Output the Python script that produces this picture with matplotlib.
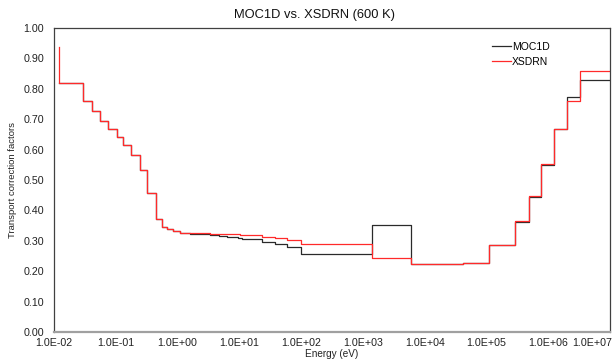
import matplotlib
matplotlib.use("Agg")
import matplotlib.pyplot as plt
from matplotlib.ticker import FixedLocator, FuncFormatter
from matplotlib.transforms import ScaledTranslation

plt.rcParams['font.family'] = ['Liberation Sans', 'DejaVu Sans']

# MOC1D: energy points (eV) and step values (steps-pre: value holds up to that energy)
moc_energy = [1.22e-2, 3.0e-2, 4.07e-2, 5.55e-2, 7.57e-2, 0.1035, 0.132, 0.174, 0.247,
              0.324, 0.447, 0.56, 0.68, 0.85, 1.09, 1.59, 3.34, 4.68, 6.2, 9.5, 10.9,
              23.0, 37.7, 59.6, 98.0, 1384.0, 5980.0, 4.2e4, 1.1e5, 2.9e5, 4.8e5,
              7.7e5, 1.23e6, 2.0e6, 3.25e6, 1.0e7]
moc_value = [0.818, 0.818, 0.760, 0.727, 0.695, 0.667, 0.640, 0.614, 0.582,
             0.534, 0.457, 0.371, 0.344, 0.338, 0.333, 0.327, 0.321, 0.319, 0.315, 0.314, 0.308,
             0.305, 0.297, 0.289, 0.281, 0.256, 0.352, 0.223, 0.227, 0.285, 0.363,
             0.443, 0.550, 0.667, 0.772, 0.829]

# XSDRN
xs_energy = [1.22e-2, 3.0e-2, 4.07e-2, 5.55e-2, 7.57e-2, 0.1035, 0.132, 0.174, 0.247,
             0.324, 0.447, 0.56, 0.68, 0.85, 1.09, 1.59, 3.34, 5.5, 10.2,
             23.0, 37.7, 59.6, 98.0, 1384.0, 5980.0, 4.2e4, 1.1e5, 2.9e5, 4.8e5,
             7.7e5, 1.23e6, 2.0e6, 3.25e6, 1.0e7]
xs_value = [0.937, 0.818, 0.760, 0.727, 0.695, 0.667, 0.640, 0.614, 0.582,
            0.534, 0.457, 0.371, 0.344, 0.338, 0.333, 0.327, 0.326, 0.324, 0.321,
            0.318, 0.313, 0.308, 0.303, 0.289, 0.244, 0.223, 0.227, 0.285, 0.366,
            0.449, 0.553, 0.668, 0.761, 0.860]

xticks = [1e-2, 1e-1, 1e0, 1e1, 1e2, 1e3, 1e4, 1e5, 1e6, 1e7]
yticks = [0.0, 0.1, 0.2, 0.3, 0.4, 0.5, 0.6, 0.7, 0.8, 0.9, 1.0]

fig = plt.figure(figsize=(6.12, 3.62), dpi=100)
ax = fig.add_axes([54/612, 30/362, 556/612, 304/362])

ax.plot(moc_energy, moc_value, drawstyle='steps-pre', color='#2a2a2a', lw=0.9, label='MOC1D')
ax.plot(xs_energy, xs_value, drawstyle='steps-pre', color='#ff2a2a', lw=0.9, label='XSDRN')

ax.set_xscale('log')
ax.set_xlim(1e-2, 1e7)
ax.set_ylim(0, 1.0)
ax.xaxis.set_major_locator(FixedLocator(xticks))
ax.xaxis.set_minor_locator(FixedLocator([]))
ax.xaxis.set_major_formatter(FuncFormatter(lambda v, pos: "%.1E" % v))
ax.set_yticks(yticks)
ax.set_yticklabels(["%.2f" % v for v in yticks])
ax.tick_params(length=0, labelsize=7.7, colors='#222222')
ax.tick_params(axis='y', pad=7)
ax.tick_params(axis='x', pad=4)
last = ax.xaxis.get_major_ticks()[-1].label1
last.set_horizontalalignment('right')
last.set_transform(last.get_transform() + ScaledTranslation(2/100, 0, fig.dpi_scale_trans))

for s in ['left', 'right', 'top']:
    ax.spines[s].set_color('#404040')
    ax.spines[s].set_linewidth(0.9)
ax.spines['bottom'].set_color('#a0a0a0')
ax.spines['bottom'].set_linewidth(1.6)

ax.set_title('MOC1D vs. XSDRN (600 K)', fontsize=9.3, color='#111111', pad=7, x=0.468)
ax.set_xlabel('Energy (eV)', fontsize=7.2, color='#222222', labelpad=1)
ax.set_ylabel('Transport correction factors', fontsize=6.8, color='#222222', labelpad=5)

leg = ax.legend(loc='upper right', bbox_to_anchor=(0.908, 0.985), frameon=False,
                fontsize=7.5, handlelength=1.8, handletextpad=0.1, labelspacing=0.45)

fig.savefig('out.png', dpi=100)
